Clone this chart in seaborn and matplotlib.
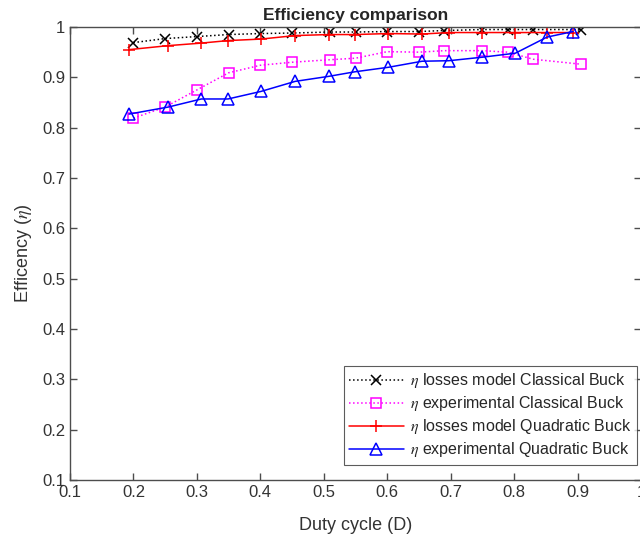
import numpy as np
import pandas as pd
import matplotlib
matplotlib.use("Agg")
import matplotlib.pyplot as plt
import seaborn as sns

# duty cycle points for the classical buck (model + experiment)
d_classical = [0.20, 0.25, 0.30, 0.35, 0.40, 0.45, 0.51, 0.55, 0.60, 0.65, 0.69, 0.75, 0.79, 0.83, 0.906]
eta_model_classical = [0.969, 0.977, 0.981, 0.985, 0.987, 0.988, 0.990, 0.990, 0.991, 0.991, 0.993, 0.995, 0.995, 0.995, 0.995]
eta_exp_classical = [0.819, 0.841, 0.875, 0.909, 0.924, 0.930, 0.935, 0.938, 0.951, 0.950, 0.953, 0.953, 0.950, 0.936, 0.926]

# duty cycle points for the quadratic buck
d_quadratic = [0.193, 0.255, 0.307, 0.349, 0.401, 0.455, 0.508, 0.549, 0.602, 0.655, 0.697, 0.750, 0.802, 0.852, 0.893]
eta_model_quadratic = [0.955, 0.963, 0.968, 0.973, 0.976, 0.983, 0.985, 0.985, 0.987, 0.986, 0.989, 0.989, 0.989, 0.989, 0.989]
eta_exp_quadratic = [0.827, 0.841, 0.857, 0.857, 0.872, 0.892, 0.902, 0.911, 0.920, 0.932, 0.933, 0.940, 0.948, 0.980, 0.991]

x_ticks = [0.1, 0.2, 0.3, 0.4, 0.5, 0.6, 0.7, 0.8, 0.9, 1.0]
y_ticks = [0.1, 0.2, 0.3, 0.4, 0.5, 0.6, 0.7, 0.8, 0.9, 1.0]

sns.set_style("white")
plt.rcParams['font.family'] = ['Liberation Sans', 'DejaVu Sans']
plt.rcParams['mathtext.fontset'] = 'stix'

fig = plt.figure(figsize=(6.4, 5.39), dpi=100)
ax = fig.add_axes([70 / 640, 59 / 539, 571 / 640, 453 / 539])

series = [
    (d_classical, eta_model_classical, r'$\eta$ losses model Classical Buck', 'black', 'x', ':', 7),
    (d_classical, eta_exp_classical, r'$\eta$ experimental Classical Buck', '#ff00ff', 's', ':', 6.5),
    (d_quadratic, eta_model_quadratic, r'$\eta$ losses model Quadratic Buck', '#ff0000', '+', '-', 9),
    (d_quadratic, eta_exp_quadratic, r'$\eta$ experimental Quadratic Buck', '#0000ff', '^', '-', 8),
]
for d, eta, lab, col, mk, ls, ms in series:
    df = pd.DataFrame({'D': d, 'eta': eta})
    sns.lineplot(data=df, x='D', y='eta', ax=ax, color=col, marker=mk, linestyle=ls,
                 markersize=ms, markerfacecolor='none', markeredgecolor=col,
                 markeredgewidth=1.1, linewidth=1.1, label=lab, estimator=None, sort=False)

ax.set_xlim(0.1, 1.0)
ax.set_ylim(0.1, 1.0)
ax.set_xticks(x_ticks)
ax.set_yticks(y_ticks)
ax.set_xticklabels(['0.1', '0.2', '0.3', '0.4', '0.5', '0.6', '0.7', '0.8', '0.9', '1'])
ax.set_yticklabels(['0.1', '0.2', '0.3', '0.4', '0.5', '0.6', '0.7', '0.8', '0.9', '1'])

axis_col = '#4d4d4d'
for sp in ax.spines.values():
    sp.set_color(axis_col)
    sp.set_linewidth(1.0)
ax.tick_params(direction='in', length=5, width=1, colors=axis_col, labelcolor='#333333',
               labelsize=12, top=True, right=True, bottom=True, left=True)

ax.set_xlabel('Duty cycle (D)', fontsize=13, color='#333333', labelpad=12)
ax.set_ylabel(r'Efficency ($\eta$)', fontsize=13, color='#333333', labelpad=6)
ax.set_title('Efficiency comparison', fontsize=12.5, fontweight='bold', pad=5)

leg = ax.legend(loc='lower right', fontsize=11.5, frameon=True, fancybox=False,
                edgecolor='#333333', handlelength=3.4, borderpad=0.35, labelspacing=0.25,
                handletextpad=0.4, borderaxespad=0, bbox_to_anchor=(0.993, 0.033))
leg.get_frame().set_linewidth(0.8)

fig.savefig('out.png', dpi=100)
